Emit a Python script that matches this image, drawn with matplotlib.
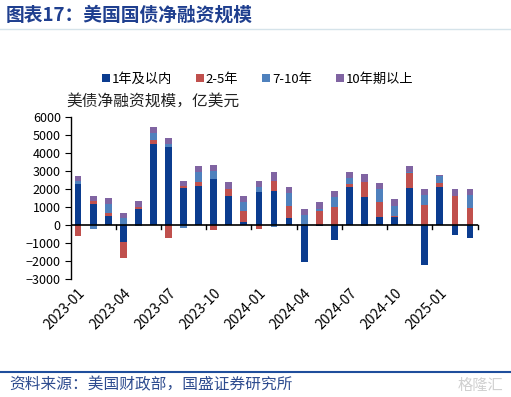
import numpy as np
import matplotlib.pyplot as plt
from matplotlib.patches import Patch

plt.rcParams['font.family'] = ['Noto Sans CJK SC', 'DejaVu Sans']

# months 2023-01 .. 2025-03
months = ['2023-01', '2023-02', '2023-03', '2023-04', '2023-05', '2023-06', '2023-07',
          '2023-08', '2023-09', '2023-10', '2023-11', '2023-12', '2024-01', '2024-02',
          '2024-03', '2024-04', '2024-05', '2024-06', '2024-07', '2024-08', '2024-09',
          '2024-10', '2024-11', '2024-12', '2025-01', '2025-02', '2025-03']

# net issuance by maturity, 100m USD
short_1y = [2300, 1185, 520, -945, 870, 4480, 4350, 2040, 2170, 2540, 1630, 185, 1815, 1870,
            370, -2055, -70, -850, 2090, 1540, 425, 425, 2040, -2200, 2090, -555, -720]
mid_2_5y = [-630, 130, 130, -890, 130, 260, -720, 130, 200, -300, 350, 575, -220, 590,
            670, 0, 760, 980, 200, 850, 850, 90, 830, 1090, 240, 1610, 925]
mid_7_10y = [170, -220, 540, 390, -70, 370, 150, -170, 575, 460, 0, 540, 300, -110,
             720, 555, 130, 575, 315, -70, 740, 555, 90, 575, 425, 0, 740]
long_10y = [280, 300, 310, 280, 350, 315, 315, 260, 330, 330, 430, 330, 350, 500,
            330, 350, 390, 350, 330, 460, 350, 370, 315, 330, 40, 390, 330]

series = [short_1y, mid_2_5y, mid_7_10y, long_10y]
names = ['1年及以内', '2-5年', '7-10年', '10年期以上']
colors = ['#0B3C8F', '#C0504D', '#4F81BD', '#8064A2']

fig = plt.figure(figsize=(5.11, 3.97), dpi=100)
ax = fig.add_axes([0.138, 0.297, 0.7965, 0.408])

x = np.arange(len(months))
pos_bottom = np.zeros(len(months))
neg_bottom = np.zeros(len(months))
for vals, c in zip(series, colors):
    v = np.array(vals, dtype=float)
    bottom = np.where(v >= 0, pos_bottom, neg_bottom)
    ax.bar(x, v, width=0.45, bottom=bottom, color=c, linewidth=0)
    pos_bottom += np.where(v > 0, v, 0)
    neg_bottom += np.where(v < 0, v, 0)

ax.set_xlim(-0.5, len(months) - 0.5)
ax.set_ylim(-3000, 6000)
ax.set_yticks(np.arange(-3000, 6001, 1000))
ax.tick_params(axis='y', labelsize=9, length=4, direction='out', pad=3)

for s in ['top', 'right', 'bottom']:
    ax.spines[s].set_visible(False)
ax.spines['left'].set_linewidth(1)
ax.axhline(0, color='black', linewidth=1.2, zorder=3)

# labels every 3 months, tick marks at category boundaries
ax.set_xticks(x[::3])
ax.set_xticklabels(months[::3], rotation=45, ha='right', rotation_mode='anchor', fontsize=10)
ax.tick_params(axis='x', length=0, pad=5)
for b in np.arange(2.5, len(months), 3):
    ax.plot([b, b], [0, -230], color='black', linewidth=1, clip_on=False, zorder=3)

handles = [Patch(facecolor=c, edgecolor='none') for c in colors]
fig.legend(handles, names, loc='center', bbox_to_anchor=(0.504, 0.8), ncol=4, frameon=False,
           fontsize=9.5, handlelength=0.6, handleheight=0.6, handletextpad=0.15,
           columnspacing=1.8)

fig.text(0.129, 0.745, '美债净融资规模，亿美元', fontsize=11.3, color='#222222', va='center')

fig.text(0.012, 0.963, '图表17：美国国债净融资规模', fontsize=13.5, fontweight='bold',
         color='#1F3F8F', va='center', style='italic')
fig.add_artist(plt.Line2D([0, 1], [0.928, 0.928], color='#D5E3EA', linewidth=1))
fig.add_artist(plt.Line2D([0, 1], [0.063, 0.063], color='#1F4E9C', linewidth=1.5))
fig.text(0.018, 0.03, '资料来源：美国财政部，国盛证券研究所', fontsize=11.3, color='#2E4C8F',
         va='center', style='italic')
fig.text(0.985, 0.03, '格隆汇', fontsize=11, color='#D0D0D0', va='center', ha='right')

fig.savefig('out.png', dpi=100)
